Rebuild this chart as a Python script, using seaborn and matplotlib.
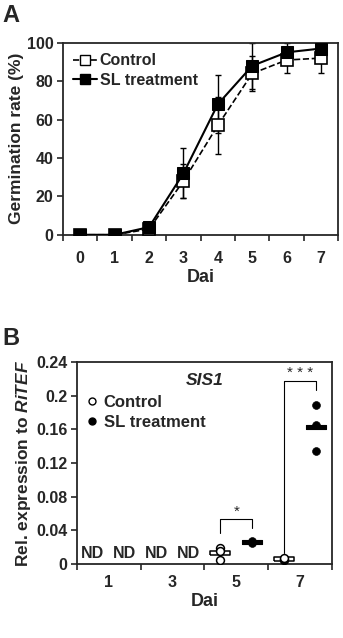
import matplotlib
matplotlib.use("Agg")
import matplotlib.pyplot as plt
import numpy as np
import pandas as pd
import seaborn as sns
from matplotlib.lines import Line2D

# Panel A: germination rate (%) per day after inoculation
days_a = [0, 1, 2, 3, 4, 5, 6, 7]
control_mean = [0, 0, 3, 28, 57, 84, 91, 92]
control_sd = [0, 0, 2, 9, 15, 9, 7, 8]
sl_mean = [0, 0, 4, 32, 68, 88, 95, 97]
sl_sd = [0, 0, 2, 13, 15, 12, 5, 3]

# Panel B: SIS1 expression relative to RiTEF (3 replicates)
days_b = ["1", "3", "5", "7"]
ctrl_day5 = [0.019, 0.016, 0.005]
sl_day5 = [0.025, 0.026, 0.027]
ctrl_day7 = [0.005, 0.006, 0.007]
sl_day7 = [0.189, 0.165, 0.134]
nd_days = ["1", "3"]
# significance brackets: day, left leg bottom, right leg bottom, top, label
brackets = [("5", 0.0365, 0.0425, 0.0536, "*"),
            ("7", 0.0127, 0.207, 0.218, "* * *")]

sns.set_style("ticks")
plt.rcParams["font.family"] = ["Liberation Sans", "DejaVu Sans"]
plt.rcParams["font.weight"] = "bold"
plt.rcParams["axes.labelweight"] = "bold"
plt.rcParams["mathtext.fontset"] = "custom"
plt.rcParams["mathtext.it"] = "Liberation Sans:italic:bold"
plt.rcParams["mathtext.rm"] = "Liberation Sans:bold"
plt.rcParams["axes.linewidth"] = 1.3
plt.rcParams["xtick.major.width"] = 1.2
plt.rcParams["ytick.major.width"] = 1.2
plt.rcParams["xtick.minor.width"] = 1.2

TICK = 11.5
LAB = 12.5

fig = plt.figure(figsize=(3.43, 6.38), dpi=100)
ax1 = fig.add_axes([0.184, 0.632, 0.802, 0.301])
ax2 = fig.add_axes([0.2245, 0.116, 0.743, 0.3166])

# ---------- Panel A ----------
dfa = pd.DataFrame({"day": days_a * 2,
                    "rate": control_mean + sl_mean,
                    "group": ["Control"] * 8 + ["SL treatment"] * 8})
ax1.errorbar(days_a, control_mean, yerr=control_sd, fmt="none", ecolor="black",
             elinewidth=1, capsize=2.5, zorder=2)
ax1.errorbar(days_a, sl_mean, yerr=sl_sd, fmt="none", ecolor="black",
             elinewidth=1, capsize=2.5, zorder=2)
sns.lineplot(data=dfa[dfa.group == "Control"], x="day", y="rate", ax=ax1,
             color="black", linestyle="--", linewidth=1.2, marker="s",
             markersize=8, markerfacecolor="white", markeredgecolor="black",
             markeredgewidth=1.2, zorder=3)
sns.lineplot(data=dfa[dfa.group == "SL treatment"], x="day", y="rate", ax=ax1,
             color="black", linestyle="-", linewidth=1.5, marker="s",
             markersize=8, markerfacecolor="black", markeredgecolor="black",
             zorder=4)
ax1.set_xlim(-0.5, 7.5)
ax1.set_ylim(0, 100)
ax1.set_yticks([0, 20, 40, 60, 80, 100])
ax1.set_xticks(days_a)
ax1.set_xticks(np.arange(-0.5, 8, 1), minor=True)
ax1.tick_params(axis="x", which="major", length=0, pad=12, labelsize=TICK)
ax1.tick_params(axis="x", which="minor", length=4)
ax1.tick_params(axis="y", length=4, pad=3, labelsize=TICK)
ax1.set_xlabel("Dai", fontsize=13, labelpad=2)
ax1.set_ylabel("Germination rate (%)", fontsize=LAB, labelpad=2)
handles_a = [Line2D([], [], color="black", linestyle="--", linewidth=1.2, marker="s",
                    markersize=6.5, markerfacecolor="white", markeredgecolor="black"),
             Line2D([], [], color="black", linestyle="-", linewidth=1.5, marker="s",
                    markersize=6.5, markerfacecolor="black")]
ax1.legend(handles_a, ["Control", "SL treatment"], loc="upper left", frameon=False,
           handlelength=1.5, handletextpad=0.15, borderaxespad=0.25, labelspacing=0.3,
           prop={"weight": "bold", "size": 11.5})
fig.text(0.008, 0.975, "A", fontsize=17, fontweight="bold", va="center")

# ---------- Panel B ----------
pos = {d: i for i, d in enumerate(days_b)}
off = 0.25
dfb = pd.DataFrame({
    "day": ["5"] * 3 + ["5"] * 3 + ["7"] * 3 + ["7"] * 3,
    "group": (["Control"] * 3 + ["SL treatment"] * 3) * 2,
    "value": ctrl_day5 + sl_day5 + ctrl_day7 + sl_day7,
})
dfb["x"] = dfb["day"].map(pos) + np.where(dfb["group"] == "Control", -off, off)
means = dfb.groupby(["day", "group", "x"], as_index=False)["value"].mean()

bar_marker = [(-2.6, -0.5), (2.6, -0.5), (2.6, 0.5), (-2.6, 0.5), (-2.6, -0.5)]
mc = means[means.group == "Control"]
ms = means[means.group == "SL treatment"]
ax2.scatter(mc["x"], mc["value"], marker=bar_marker, s=210, facecolor="white",
            edgecolor="black", linewidth=1.1, zorder=3)
ax2.scatter(ms["x"], ms["value"], marker=bar_marker, s=210, facecolor="black",
            edgecolor="black", linewidth=0.8, zorder=3)
sns.scatterplot(data=dfb[dfb.group == "Control"], x="x", y="value", ax=ax2,
                marker="o", s=32, facecolor="white", edgecolor="black",
                linewidth=1.1, zorder=4, legend=False)
sns.scatterplot(data=dfb[dfb.group == "SL treatment"], x="x", y="value", ax=ax2,
                marker="o", s=32, color="black", edgecolor="black",
                zorder=4, legend=False)

for d in nd_days:
    for o in (-off, off):
        ax2.text(pos[d] + o, 0.012, "ND", ha="center", va="center",
                 fontsize=11.5, fontweight="bold")

for d, yl, yr, yt, lab in brackets:
    xl, xr = pos[d] - off, pos[d] + off
    ax2.plot([xl, xl, xr, xr], [yl, yt, yt, yr], color="black", linewidth=0.8)
    ax2.text(pos[d], yt + 0.0005, lab, ha="center", va="bottom", fontsize=11,
             fontweight="normal")

ax2.set_xlim(-0.5, 3.5)
ax2.set_ylim(0, 0.24)
ax2.set_yticks([0, 0.04, 0.08, 0.12, 0.16, 0.2, 0.24])
ax2.set_yticklabels(["0", "0.04", "0.08", "0.12", "0.16", "0.2", "0.24"])
ax2.set_xticks(range(len(days_b)))
ax2.set_xticklabels(days_b)
ax2.set_xticks(np.arange(-0.5, 4, 1), minor=True)
ax2.tick_params(axis="x", which="major", length=0, pad=8, labelsize=TICK)
ax2.tick_params(axis="x", which="minor", length=4)
ax2.tick_params(axis="y", length=4, pad=3, labelsize=TICK)
ax2.set_xlabel("Dai", fontsize=13, labelpad=2)
ax2.set_ylabel(r"Rel. expression to $\mathit{RiTEF}$", fontsize=LAB, labelpad=2)
ax2.text(0.5, 0.91, "SIS1", transform=ax2.transAxes, ha="center", va="center",
         fontsize=12.5, fontweight="bold", fontstyle="italic")
handles_b = [Line2D([], [], linestyle="none", marker="o", markersize=5,
                    markerfacecolor="white", markeredgecolor="black"),
             Line2D([], [], linestyle="none", marker="o", markersize=5,
                    markerfacecolor="black", markeredgecolor="black")]
ax2.legend(handles_b, ["Control", "SL treatment"], loc="upper left",
           bbox_to_anchor=(0.0, 0.885), frameon=False, handlelength=0.6,
           handletextpad=0.4, borderaxespad=0.2, labelspacing=0.3,
           prop={"weight": "bold", "size": 12})
fig.text(0.008, 0.47, "B", fontsize=17, fontweight="bold", va="center")

fig.savefig("out.png", dpi=100)
